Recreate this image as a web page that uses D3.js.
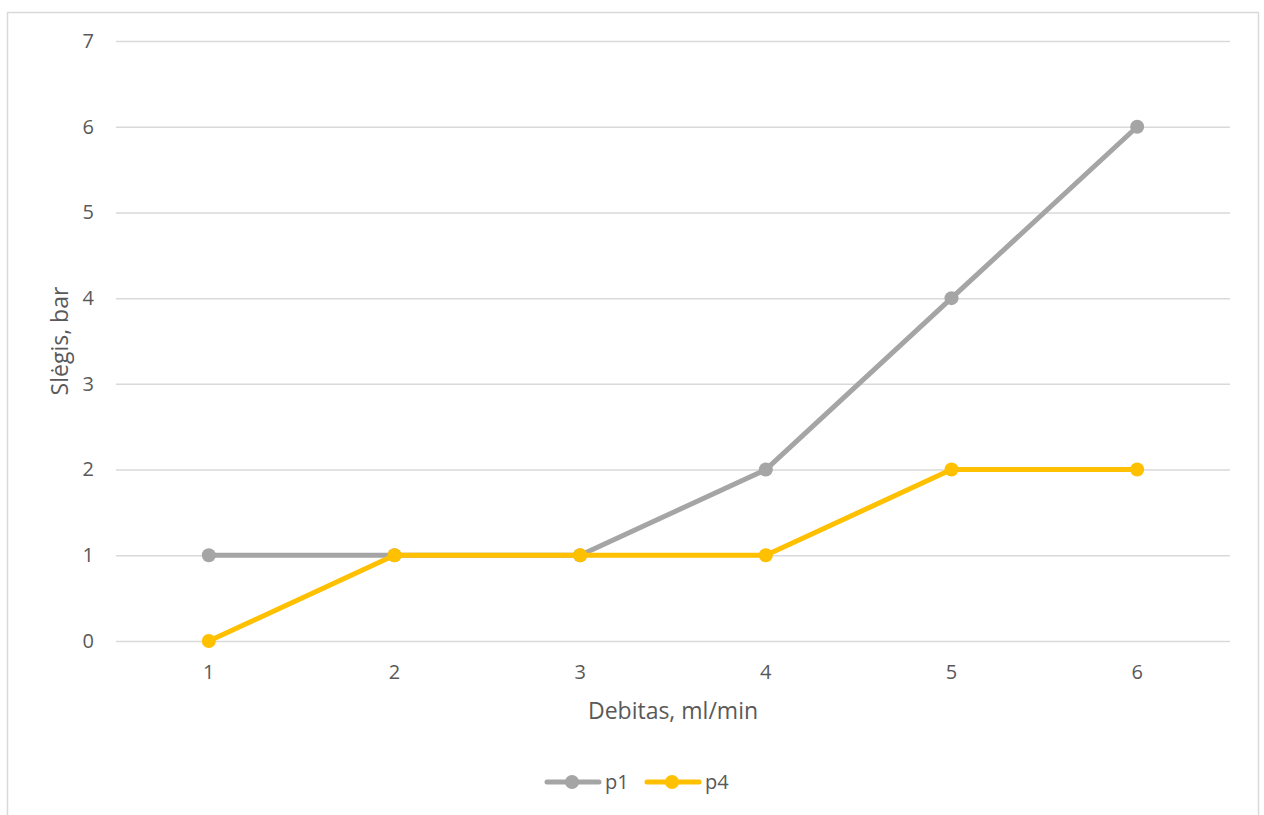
<!DOCTYPE html>
<html>
<head>
<meta charset="utf-8">
<script src="https://cdn.jsdelivr.net/npm/d3@7"></script>
<style>
  html, body { margin: 0; padding: 0; background: #fff; }
  svg { display: block; font-family: "Open Sans", "Noto Sans", sans-serif; }
</style>
</head>
<body>
<svg id="chart" width="1264" height="815"></svg>
<script>
// Flow rate categories (ml/min) and pressure readings (bar)
const categories = ["1", "2", "3", "4", "5", "6"];
const p1 = [1, 1, 1, 2, 4, 6];
const p4 = [0, 1, 1, 1, 2, 2];
const yTicks = [0, 1, 2, 3, 4, 5, 6, 7];
const seriesNames = ["p1", "p4"];
const seriesColors = ["#A5A5A5", "#FFC000"];

const svg = d3.select("#chart");
const plot = { left: 116, right: 1230, top: 41, bottom: 641 };
const textColor = "#595959";
const gridColor = "#D9D9D9";
const fontFamily = "'Open Sans', 'Noto Sans', sans-serif";

// Outer chart frame
svg.append("rect")
  .attr("x", 7.5).attr("y", 12.5)
  .attr("width", 1251).attr("height", 820)
  .attr("fill", "#fff")
  .attr("stroke", gridColor).attr("stroke-width", 1.5);

const x = d3.scaleBand().domain(categories).range([plot.left, plot.right]);
const y = d3.scaleLinear().domain([0, 7]).range([plot.bottom, plot.top]);

// Horizontal gridlines + y tick labels
const yAxis = svg.append("g")
  .attr("transform", `translate(${plot.left},0)`)
  .call(d3.axisLeft(y).tickValues(yTicks).tickSize(-(plot.right - plot.left)).tickPadding(22).tickFormat(d3.format("d")))
  .attr("font-family", fontFamily).attr("font-size", 20);
yAxis.select(".domain").remove();
yAxis.selectAll(".tick line").attr("stroke", gridColor).attr("stroke-width", 1.5);
yAxis.selectAll(".tick text").attr("fill", textColor);

// Category labels along the bottom
const xAxis = svg.append("g")
  .attr("transform", `translate(0,${plot.bottom})`)
  .call(d3.axisBottom(x).tickSize(0).tickPadding(24))
  .attr("font-family", fontFamily).attr("font-size", 20);
xAxis.select(".domain").remove();
xAxis.selectAll(".tick text").attr("fill", textColor);

// Axis titles
svg.append("text")
  .attr("x", (plot.left + plot.right) / 2).attr("y", 719)
  .attr("text-anchor", "middle").attr("fill", textColor)
  .style("font-size", "23px").text("Debitas, ml/min");
svg.append("text")
  .attr("transform", `translate(68,${(plot.top + plot.bottom) / 2}) rotate(-90)`)
  .attr("text-anchor", "middle").attr("fill", textColor)
  .style("font-size", "23px").text("Slėgis, bar");

// Series lines and markers
const cx = (d, i) => x(categories[i]) + x.bandwidth() / 2;
const line = d3.line().x(cx).y(d => y(d));
[p1, p4].forEach((vals, si) => {
  const g = svg.append("g");
  g.append("path").datum(vals)
    .attr("d", line).attr("fill", "none")
    .attr("stroke", seriesColors[si]).attr("stroke-width", 5)
    .attr("stroke-linejoin", "round").attr("stroke-linecap", "round");
  g.selectAll("circle").data(vals).join("circle")
    .attr("cx", cx)
    .attr("cy", d => y(d))
    .attr("r", 7).attr("fill", seriesColors[si]);
});

// Legend
const legend = svg.append("g").attr("transform", "translate(545,782)");
const legendStarts = [0, 100];
seriesNames.forEach((name, i) => {
  const lg = legend.append("g").attr("transform", `translate(${legendStarts[i]},0)`);
  lg.append("line").attr("x1", 2).attr("x2", 54).attr("y1", 0).attr("y2", 0)
    .attr("stroke", seriesColors[i]).attr("stroke-width", 5).attr("stroke-linecap", "round");
  lg.append("circle").attr("cx", 27).attr("cy", 0).attr("r", 7).attr("fill", seriesColors[i]);
  lg.append("text").attr("x", 60).attr("y", 0).attr("dy", "0.35em")
    .attr("fill", textColor).style("font-size", "20px").text(name);
});
</script>
</body>
</html>
